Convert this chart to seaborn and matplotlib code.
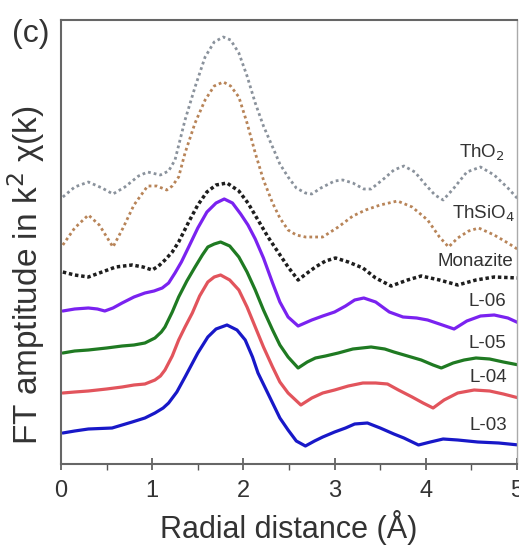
import numpy as np
import pandas as pd
import matplotlib
matplotlib.use("Agg")
import matplotlib.pyplot as plt
from matplotlib import font_manager
import seaborn as sns

# ---- data (radial distance in Å, FT amplitude in arbitrary offset units) ----
r_tho2 = [0.02,0.15,0.3,0.45,0.57,0.7,0.85,0.95,1.09,1.18,1.25,1.36,1.47,1.58,1.68,1.78,1.86,1.95,2.04,2.13,2.22,2.32,2.4,2.49,2.58,2.68,2.75,2.85,3.0,3.09,3.2,3.32,3.4,3.55,3.65,3.76,3.88,4.0,4.1,4.19,4.3,4.45,4.6,4.75,4.9,5.02]
a_tho2 = [267,277,282,276,270,277,288,292,289,293,304,344,377,407,422,427,424,411,388,361,338,317,300,287,276,271,270,276,283,284,281,275,275,286,294,298,292,279,269,264,275,292,297,289,276,264]

r_thsio4 = [0.02,0.15,0.3,0.42,0.57,0.68,0.8,0.95,1.05,1.16,1.22,1.29,1.36,1.47,1.58,1.68,1.78,1.86,1.95,2.04,2.13,2.22,2.32,2.4,2.49,2.58,2.68,2.87,3.04,3.2,3.34,3.5,3.69,3.85,4.02,4.15,4.25,4.35,4.47,4.58,4.75,4.9,5.02]
a_thsio4 = [219,236,249,239,217,236,259,278,278,274,278,287,311,341,364,378,382,378,367,341,311,284,261,246,234,229,227,227,237,248,254,259,263,257,244,227,217,226,233,236,229,221,214]

r_monazite = [0.02,0.15,0.3,0.45,0.6,0.78,0.9,1.0,1.07,1.14,1.22,1.29,1.4,1.5,1.6,1.7,1.82,1.95,2.05,2.16,2.27,2.35,2.49,2.6,2.7,2.79,2.9,3.01,3.15,3.31,3.45,3.62,3.8,3.95,4.15,4.35,4.55,4.75,5.02]
a_monazite = [192,189,187,192,197,199,197,194,198,204,212,222,242,259,272,279,281,273,261,244,227,216,197,184,191,197,203,206,202,196,186,178,184,188,184,179,184,187,186]

r_l06 = [0.02,0.15,0.3,0.4,0.48,0.57,0.67,0.8,0.92,1.02,1.11,1.18,1.25,1.32,1.4,1.5,1.6,1.7,1.79,1.88,1.97,2.05,2.13,2.22,2.32,2.4,2.49,2.6,2.75,2.87,3.0,3.12,3.22,3.32,3.45,3.6,3.75,3.9,4.02,4.15,4.31,4.45,4.6,4.75,4.9,5.02]
a_l06 = [153,155,156,155,153,156,161,167,171,173,176,181,191,202,217,236,252,261,265,261,250,239,225,206,181,162,147,138,144,148,152,158,164,166,162,152,147,146,144,140,135,143,148,149,146,141]

r_l05 = [0.02,0.15,0.3,0.5,0.67,0.8,0.92,1.03,1.1,1.14,1.22,1.29,1.38,1.47,1.55,1.61,1.68,1.75,1.85,1.95,2.04,2.13,2.22,2.32,2.4,2.49,2.6,2.7,2.79,2.9,3.04,3.2,3.4,3.55,3.65,3.8,3.95,4.08,4.17,4.3,4.42,4.55,4.7,4.85,5.02]
a_l05 = [111,113,114,116,118,119,121,126,132,137,152,167,183,197,209,217,220,222,218,207,192,174,154,134,119,107,96,102,106,108,111,115,117,115,112,108,104,99,96,101,104,106,105,102,99]

r_l04 = [0.02,0.15,0.3,0.5,0.67,0.8,0.92,1.03,1.09,1.14,1.22,1.29,1.36,1.44,1.52,1.61,1.68,1.75,1.85,1.95,2.04,2.13,2.22,2.32,2.4,2.49,2.63,2.75,2.87,3.0,3.15,3.31,3.45,3.58,3.7,3.85,3.97,4.08,4.2,4.35,4.53,4.7,4.85,5.02]
a_l04 = [71,72,73,75,77,79,80,84,88,94,108,124,137,151,168,182,187,189,184,174,157,137,117,97,82,71,59,66,71,74,78,81,81,80,74,67,61,56,64,71,74,73,70,66]

r_l03 = [0.02,0.15,0.3,0.56,0.78,0.92,1.03,1.12,1.18,1.27,1.36,1.43,1.5,1.61,1.7,1.82,1.93,2.02,2.1,2.16,2.24,2.32,2.4,2.49,2.58,2.68,2.78,2.87,3.0,3.12,3.22,3.36,3.5,3.65,3.76,3.92,4.05,4.19,4.35,4.57,4.8,5.02]
a_l03 = [31,33,35,36,42,46,51,56,61,72,87,99,111,127,135,139,134,124,107,91,76,61,46,34,23,18,23,27,32,36,40,41,36,30,26,19,22,25,24,22,21,19]

series_names = ["ThO$_2$", "ThSiO$_4$", "Monazite", "L-06", "L-05", "L-04", "L-03"]
series_r = [r_tho2, r_thsio4, r_monazite, r_l06, r_l05, r_l04, r_l03]
series_a = [a_tho2, a_thsio4, a_monazite, a_l06, a_l05, a_l04, a_l03]
label_r = [4.61, 4.63, 4.54, 4.68, 4.68, 4.68, 4.68]
label_a = [311, 250, 202, 163, 121, 87, 39]

x_ticks = [0, 1, 2, 3, 4, 5]
x_label = "Radial distance (Å)"
y_label = "FT amptitude in k$^2$ χ(k)"
panel = "(c)"

# ---- styles ----
colors = ["#8a929c", "#b88458", "#1e1e1e", "#7a22f0", "#1f7a22", "#e2545c", "#1818c8"]
styles = [(0, (1, 1.1)), (0, (1, 1.1)), (0, (1, 0.8)), "-", "-", "-", "-"]
widths = [2.0, 2.0, 2.5, 2.3, 2.3, 2.3, 2.3]

sns.set_theme(style="white")
plt.rcParams["font.family"] = ["Liberation Sans", "DejaVu Sans"]
names = {f.name for f in font_manager.fontManager.ttflist}
narrow = "Liberation Sans Narrow" if "Liberation Sans Narrow" in names else None

fig = plt.figure(figsize=(5.19, 5.45), dpi=100)
ax = fig.add_axes([61/519, 1-464/545, 456/519, 444/545])

frames = []
for name, rr, aa in zip(series_names, series_r, series_a):
    frames.append(pd.DataFrame({"r": rr, "amp": aa, "sample": name}))
df = pd.concat(frames, ignore_index=True)

for name, c, ls, lw in zip(series_names, colors, styles, widths):
    sub = df[df["sample"] == name]
    sns.lineplot(data=sub, x="r", y="amp", ax=ax, color=c, linestyle=ls,
                 linewidth=lw, sort=False, estimator=None, legend=False)

for name, lr, la in zip(series_names, label_r, label_a):
    if narrow:
        ax.text(lr, la, name, ha="center", va="center", fontsize=15.5,
                family=[narrow, "DejaVu Sans"], color="#333333")
    else:
        ax.text(lr, la, name, ha="center", va="center", fontsize=13.5,
                color="#333333")

ax.set_xlim(0, 5)
ax.set_ylim(0, 444)
ax.set_xticks(x_ticks)
ax.set_xticks(np.arange(0.5, 5, 1.0), minor=True)
ax.set_yticks([])
ax.tick_params(axis="x", which="major", direction="inout", length=9, width=1.2,
               color="#555555", labelsize=17, labelcolor="#333333", pad=7, bottom=True)
ax.tick_params(axis="x", which="minor", direction="out", length=4, width=1.0,
               color="#555555", bottom=True)
for sp in ["left", "bottom", "top", "right"]:
    ax.spines[sp].set_color("#666666")
    ax.spines[sp].set_linewidth(1.5)
ax.spines["right"].set_linewidth(1.0)
ax.spines["right"].set_color("#aaaaaa")

ax.set_xlabel(x_label, fontsize=22, color="#333333", labelpad=6)
ax.set_ylabel(y_label, fontsize=24, color="#333333")
ax.yaxis.set_label_coords(-0.03, 0.425)
fig.text(12/519, 1-19/545, panel, fontsize=23, color="#333333", ha="left", va="top")

fig.savefig("out.png", dpi=100)
